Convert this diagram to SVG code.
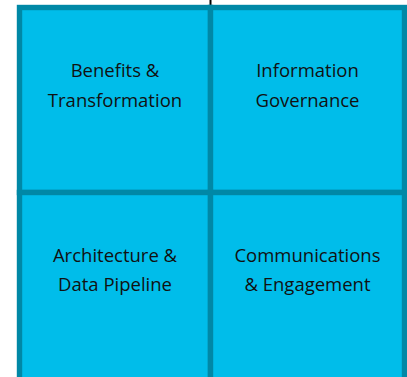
<svg xmlns="http://www.w3.org/2000/svg" width="407" height="377" viewBox="0 0 407 377">
<style>
.cell{fill:#00BDEA;stroke:#0088A6;stroke-width:5.4}
.lbl{font-family:"Open Sans","Liberation Sans",sans-serif;font-size:18.5px;fill:#111;text-anchor:middle}
</style>
<rect width="407" height="377" fill="#ffffff"/>
<g id="connectors">
<line x1="210.5" y1="0" x2="210.5" y2="7" stroke="#000" stroke-width="2"/>
</g>
<g id="benefits">
<rect class="cell" x="19.5" y="7.5" width="191" height="185"/>
<text class="lbl" x="115" y="77">Benefits &amp;</text>
<text class="lbl" x="115" y="107">Transformation</text>
</g>
<g id="governance">
<rect class="cell" x="210.5" y="7.5" width="194" height="185"/>
<text class="lbl" x="307.5" y="77">Information</text>
<text class="lbl" x="307.5" y="107">Governance</text>
</g>
<g id="architecture">
<rect class="cell" x="19.5" y="192.5" width="191" height="192"/>
<text class="lbl" x="115" y="262">Architecture &amp;</text>
<text class="lbl" x="115" y="291">Data Pipeline</text>
</g>
<g id="communications">
<rect class="cell" x="210.5" y="192.5" width="194" height="192"/>
<text class="lbl" x="307.5" y="262">Communications</text>
<text class="lbl" x="307.5" y="291">&amp; Engagement</text>
</g>
</svg>
